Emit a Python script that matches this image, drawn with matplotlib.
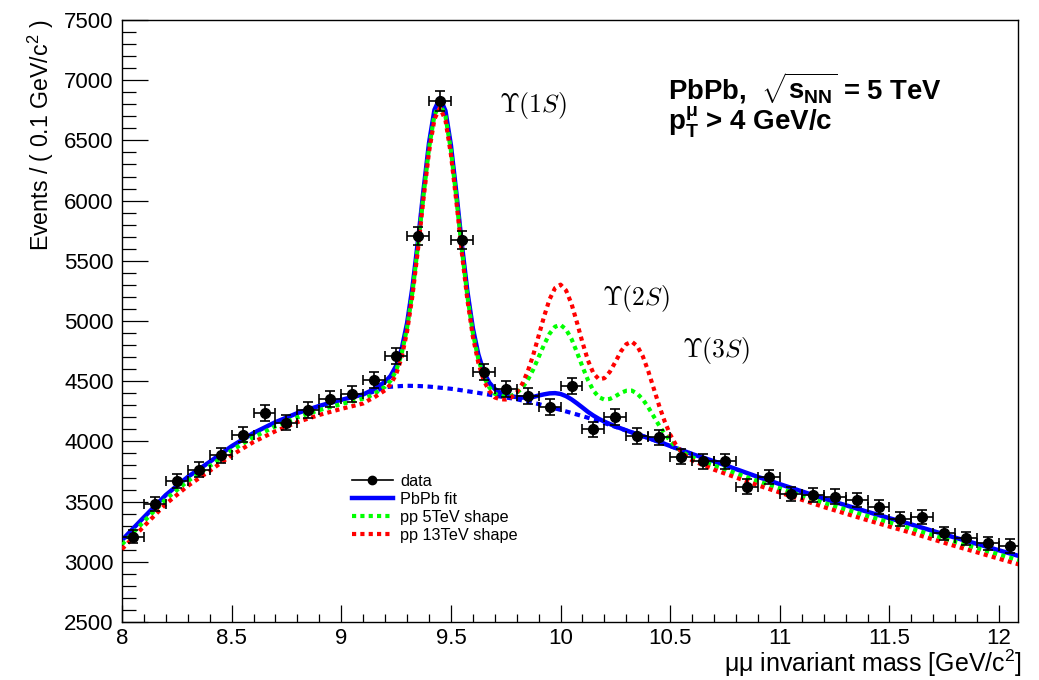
import matplotlib
matplotlib.use("Agg")
import matplotlib.pyplot as plt
from matplotlib.lines import Line2D
from matplotlib.ticker import MultipleLocator, FuncFormatter
import numpy as np

plt.rcParams["font.family"] = ["Liberation Sans", "DejaVu Sans"]
plt.rcParams["mathtext.fontset"] = "custom"
plt.rcParams["mathtext.rm"] = "Liberation Sans"
plt.rcParams["mathtext.it"] = "Liberation Sans:italic"
plt.rcParams["mathtext.bf"] = "Liberation Sans:bold"

# binned dimuon data (0.1 GeV/c^2 bins)
bin_width = 0.1
mass_bins = [8.05, 8.15, 8.25, 8.35, 8.45, 8.55, 8.65, 8.75, 8.85, 8.95,
             9.05, 9.15, 9.25, 9.35, 9.45, 9.55, 9.65, 9.75, 9.85, 9.95,
             10.05, 10.15, 10.25, 10.35, 10.45, 10.55, 10.65, 10.75, 10.85, 10.95,
             11.05, 11.15, 11.25, 11.35, 11.45, 11.55, 11.65, 11.75, 11.85, 11.95,
             12.05]
counts = [3210, 3480, 3670, 3765, 3885, 4055, 4235, 4155, 4260, 4352,
          4390, 4510, 4709, 5706, 6830, 5676, 4576, 4435, 4377, 4283,
          4460, 4100, 4205, 4045, 4034, 3873, 3835, 3835, 3624, 3705,
          3563, 3555, 3541, 3513, 3452, 3353, 3369, 3236, 3195, 3153,
          3131]

# fit curves
curve_mass = [8.0, 8.1, 8.2, 8.3, 8.4, 8.5, 8.6, 8.7, 8.8, 8.9, 9.0, 9.1,
              9.125, 9.15, 9.175, 9.2, 9.225, 9.25, 9.275, 9.3, 9.325, 9.35,
              9.375, 9.4, 9.425, 9.45, 9.475, 9.5, 9.525, 9.55, 9.575, 9.6,
              9.625, 9.65, 9.675, 9.7, 9.725, 9.75, 9.775, 9.8, 9.825, 9.85,
              9.875, 9.9, 9.925, 9.95, 9.975, 10.0, 10.025, 10.05, 10.075, 10.1,
              10.125, 10.15, 10.175, 10.2, 10.225, 10.25, 10.275, 10.3, 10.325, 10.35,
              10.375, 10.4, 10.425, 10.45, 10.475, 10.5, 10.525, 10.55, 10.575, 10.6,
              10.7, 10.8, 10.9, 11.0, 11.1, 11.2, 11.3, 11.4, 11.5, 11.6,
              11.7, 11.8, 11.9, 12.0, 12.1]
pbpb_fit = [3180, 3370, 3555, 3705, 3830, 3960, 4070, 4160, 4235, 4295, 4345, 4390,
            4412, 4435, 4465, 4495, 4544, 4627, 4765, 4982, 5286, 5670,
            6088, 6478, 6755, 6851, 6746, 6460, 6061, 5634, 5247, 4940,
            4723, 4575, 4488, 4435, 4405, 4387, 4375, 4368, 4364, 4365,
            4369, 4381, 4391, 4399, 4401, 4394, 4376, 4349, 4316, 4281,
            4245, 4214, 4187, 4164, 4144, 4125, 4108, 4091, 4075, 4059,
            4044, 4028, 4012, 3995, 3979, 3962, 3945, 3929, 3912, 3895,
            3835, 3770, 3705, 3645, 3585, 3525, 3470, 3415, 3362, 3310,
            3255, 3200, 3148, 3095, 3043]
pp5_shape = [3145, 3335, 3520, 3670, 3795, 3925, 4035, 4125, 4200, 4260, 4310, 4355,
             4372, 4395, 4425, 4455, 4504, 4587, 4725, 4942, 5246, 5630,
             6048, 6436, 6710, 6806, 6702, 6418, 6021, 5594, 5207, 4900,
             4683, 4535, 4448, 4395, 4379, 4371, 4378, 4402, 4444, 4509,
             4596, 4700, 4804, 4895, 4953, 4968, 4930, 4850, 4739, 4620,
             4509, 4421, 4367, 4347, 4353, 4375, 4403, 4421, 4422, 4396,
             4349, 4283, 4207, 4131, 4063, 4003, 3956, 3920, 3891, 3868,
             3800, 3735, 3670, 3610, 3550, 3490, 3435, 3380, 3327, 3275,
             3220, 3165, 3113, 3060, 3008]
pp13_shape = [3105, 3295, 3480, 3630, 3755, 3885, 3995, 4085, 4160, 4220, 4270, 4315,
              4342, 4365, 4395, 4425, 4474, 4557, 4695, 4912, 5216, 5600,
              6015, 6403, 6678, 6771, 6669, 6383, 5988, 5564, 5177, 4870,
              4653, 4505, 4418, 4365, 4350, 4348, 4365, 4407, 4477, 4580,
              4716, 4877, 5039, 5181, 5274, 5302, 5254, 5142, 4986, 4821,
              4672, 4565, 4516, 4525, 4579, 4660, 4747, 4808, 4828, 4791,
              4707, 4583, 4439, 4294, 4165, 4056, 3975, 3915, 3872, 3842,
              3765, 3700, 3635, 3575, 3515, 3455, 3400, 3345, 3292, 3240,
              3185, 3130, 3078, 3025, 2973]
# background component of the PbPb fit, 9.125 - 10.6
pbpb_bkg = [4400, 4415, 4432, 4450, 4454, 4457, 4460, 4462, 4461, 4460,
            4458, 4455, 4451, 4446, 4442, 4437, 4431, 4424, 4417, 4410,
            4403, 4395, 4388, 4380, 4373, 4365, 4358, 4350, 4340, 4330,
            4320, 4310, 4298, 4286, 4274, 4262, 4249, 4236, 4223, 4210,
            4196, 4181, 4167, 4152, 4137, 4121, 4106, 4090, 4075, 4059,
            4044, 4028, 4012, 3995, 3979, 3962, 3945, 3929, 3912, 3895]
bkg_mass = curve_mass[12:72]

fig = plt.figure(figsize=(10.39, 6.80), dpi=100)
ax = fig.add_axes([122 / 1039, 58 / 680, 896 / 1039, 602 / 680])

dots = (0, (1, 1))
ax.plot(bkg_mass, pbpb_bkg, color="blue", lw=3, ls=(0, (1.3, 1.1)), zorder=2)
ax.plot(curve_mass, pbpb_fit, color="blue", lw=3.2, zorder=3)
ax.plot(curve_mass, pp5_shape, color="#00ff00", lw=3, ls=dots, zorder=4)
ax.plot(curve_mass, pp13_shape, color="red", lw=3, ls=dots, zorder=5)

ax.errorbar(mass_bins, counts, xerr=bin_width / 2, yerr=np.sqrt(counts),
            fmt="o", color="black", ms=7, elinewidth=1.2, capsize=3.5,
            capthick=1.2, zorder=6)

ax.set_xlim(8, 12.086)
ax.set_ylim(2500, 7500)
ax.xaxis.set_major_locator(MultipleLocator(0.5))
ax.xaxis.set_minor_locator(MultipleLocator(0.1))
ax.yaxis.set_major_locator(MultipleLocator(500))
ax.yaxis.set_minor_locator(MultipleLocator(100))
ax.xaxis.set_major_formatter(FuncFormatter(lambda v, p: "{:g}".format(v)))
ax.tick_params(which="both", direction="in", top=False, right=False, width=0.9)
ax.tick_params(axis="y", which="major", length=19, pad=6, labelsize=16)
ax.tick_params(axis="y", which="minor", length=10)
ax.tick_params(axis="x", which="major", length=12, pad=4, labelsize=16)
ax.tick_params(axis="x", which="minor", length=6)
for s in ax.spines.values():
    s.set_linewidth(1.0)

ax.set_ylabel("Events / ( 0.1 GeV/c$^{2}$ )", fontsize=16.7, loc="top")
ax.yaxis.set_label_coords(-0.074, 1.0)
ax.set_xlabel("\u03bc\u03bc invariant mass [GeV/c$^{2}$]", fontsize=18, loc="right")
ax.xaxis.set_label_coords(1.0045, -0.043)

ax.text(9.72, 6794, r"$\Upsilon(1S)$", math_fontfamily="cm", fontsize=18.5, va="center")
ax.text(10.19, 5191, r"$\Upsilon(2S)$", math_fontfamily="cm", fontsize=18.5, va="center")
ax.text(10.553, 4759, r"$\Upsilon(3S)$", math_fontfamily="cm", fontsize=18.5, va="center")

ax.text(0.609, 0.887, r"PbPb,  $\sqrt{\mathbf{s}_{\mathbf{NN}}}$ = 5 TeV", transform=ax.transAxes,
        fontsize=19.8, fontweight="bold", va="center")
ax.text(0.609, 0.8306, r"$\mathbf{p}_{\mathbf{T}}^{\mathbf{\mu}}$ > 4 GeV/c", transform=ax.transAxes,
        fontsize=20, fontweight="bold", va="center")

handles = [Line2D([], [], color="black", marker="o", ms=6, lw=1.2),
           Line2D([], [], color="blue", lw=3.2),
           Line2D([], [], color="#00ff00", lw=3, ls=dots),
           Line2D([], [], color="red", lw=3, ls=dots)]
labels = ["data", "PbPb fit", "pp 5TeV shape", "pp 13TeV shape"]
ax.legend(handles, labels, loc="upper left",
          bbox_to_anchor=((352 - 122) / 896, (622 - 474) / 602),
          frameon=False, fontsize=11.7, handlelength=2.5, handletextpad=0.45,
          labelspacing=0.18, borderpad=0, borderaxespad=0)

fig.savefig("out.png", dpi=100)
